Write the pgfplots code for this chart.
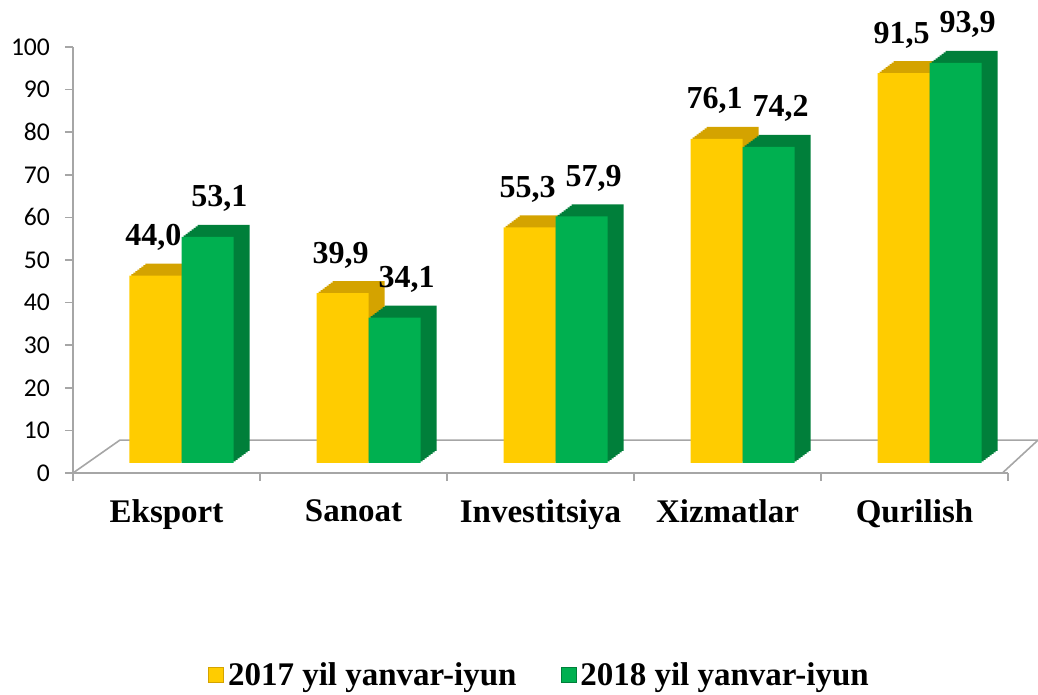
\documentclass[border=0pt]{standalone}
\usepackage{fontspec}
\setmainfont{Liberation Serif}
\newfontfamily\calibri{Carlito}
\usepackage{pgfplots}
\usepackage{pgfplotstable}
\pgfplotsset{compat=1.18}
\definecolor{Gold}{HTML}{FFCC00}
\definecolor{GoldSide}{HTML}{D4A300}
\definecolor{Leaf}{HTML}{00B050}
\definecolor{LeafSide}{HTML}{007F3A}
\definecolor{AxisGray}{HTML}{A6A6A6}

% growth, % (2017 and 2018, January-June)
\pgfplotstableread{
x v2017 v2018
0 44.0 53.1
1 39.9 34.1
2 55.3 57.9
3 76.1 74.2
4 91.5 93.9
}\sectors

\begin{document}
\begin{tikzpicture}
\begin{axis}[
  width=467.5pt, height=213pt, scale only axis,
  xmin=-0.5, xmax=4.5, ymin=0, ymax=100,
  clip=false,
  axis x line=bottom, axis y line=left,
  axis line style={draw=AxisGray, line width=0.8pt, -},
  tick style={draw=AxisGray, line width=0.8pt},
  tick align=outside, major tick length=4pt,
  ytick={0,10,...,100},
  y tick label style={font=\calibri\fontsize{12.8}{14}\selectfont, xshift=-4pt},
  /pgf/number format/assume math mode=true,
  xtick={-0.5,0.5,...,4.5}, xticklabels={},
  extra x ticks={0,1,2,3,4},
  extra x tick labels={Eksport,Sanoat,Investitsiya,Xizmatlar,Qurilish},
  extra x tick style={major tick length=0pt,
    tick label style={font=\bfseries\fontsize{16.5}{18}\selectfont, yshift=-10pt}},
  ybar, bar width=26pt,
  legend style={at={(0.5,-0.475)}, anchor=center, legend columns=2, draw=none,
    font=\bfseries\fontsize{16.5}{18}\selectfont,
    /tikz/every even column/.append style={column sep=20pt}},
  legend image code/.code={\draw[#1] (0pt,-3.5pt) rectangle (7.5pt,4pt);},
  lbl/.style={nodes near coords={\pgfmathprintnumber[fixed,fixed zerofill,precision=1,use comma]{\pgfplotspointmeta}},
    every node near coord/.append style={anchor=south, xshift=#1, yshift=9pt,
      font=\bfseries\fontsize{16}{18}\selectfont, text=black}},
]
% floor
\draw[AxisGray, line width=0.8pt, fill=white] (axis cs:-0.5,0) -- (axis cs:4.47,0)
  -- (axis cs:4.66,7.7) -- (axis cs:-0.25,7.7) -- cycle;

\addlegendimage{fill=Gold, draw=GoldSide}
\addlegendentry{2017 yil yanvar-iyun}
\addlegendimage{fill=Leaf, draw=LeafSide}
\addlegendentry{2018 yil yanvar-iyun}

\pgfplotsinvokeforeach{1,...,8}{
  \addplot[fill=GoldSide, draw=none, bar shift=-5.5pt, xshift=#1pt, yshift=5pt+0.75*#1pt, forget plot]
    table[x=x, y=v2017] {\sectors};
}
\addplot[fill=Gold, draw=none, bar shift=-5.5pt, yshift=5pt, forget plot, lbl=-1pt]
  table[x=x, y=v2017] {\sectors};

\pgfplotsinvokeforeach{1,...,8}{
  \addplot[fill=LeafSide, draw=none, bar shift=20.5pt, xshift=#1pt, yshift=5pt+0.75*#1pt, forget plot]
    table[x=x, y=v2018] {\sectors};
}
\addplot[fill=Leaf, draw=none, bar shift=20.5pt, yshift=5pt, forget plot, lbl=6pt]
  table[x=x, y=v2018] {\sectors};
\end{axis}
\pgfresetboundingbox
\path (-36.5pt,-111pt) rectangle (482.5pt,236.5pt);
\end{tikzpicture}
\end{document}
